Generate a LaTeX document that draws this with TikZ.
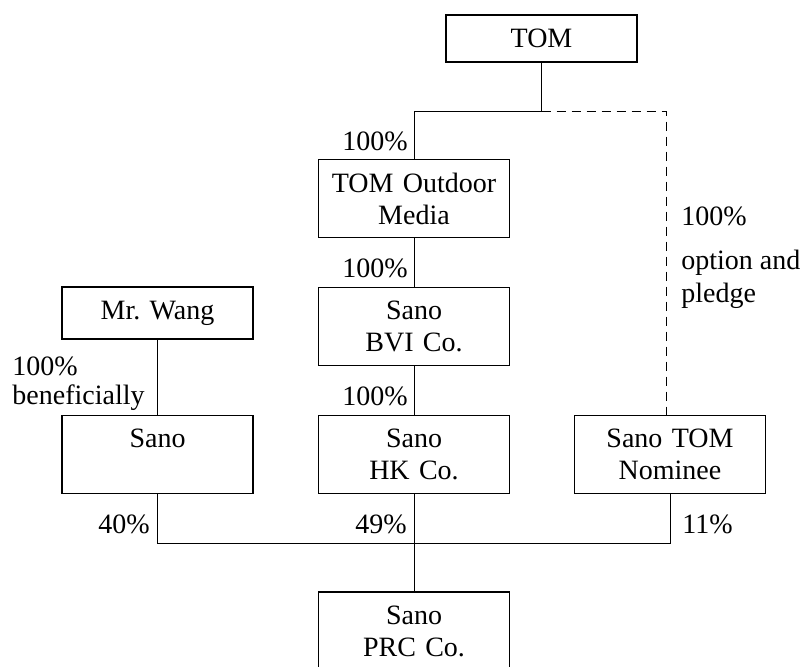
\documentclass[tikz,border=0pt]{standalone}
\usepackage{fontspec}
\setmainfont{Liberation Serif}
\begin{document}
\begin{tikzpicture}
[x=0.5pt, y=-0.5pt,
font=\fontsize{14}{16}\selectfont,
company/.style ={rectangle, draw=black, line width=0.8pt, text width=95.5pt, align=center, inner xsep=0pt, inner ysep=0pt, minimum height=39pt},
parent/.style ={company, minimum height=23.5pt},
person/.style ={company, minimum height=26pt},
share/.style ={inner sep=0pt},
line/.style ={draw, line width=0.5pt},
option/.style ={draw, line width=0.5pt, dash pattern=on 4.5pt off 3pt}]
\useasboundingbox (0,0) rectangle (804,666);
\draw (541.5, 38.5) node[parent] (tom) {TOM};
\draw (414, 198.5) node[company] (outdoor) {TOM Outdoor\\Media};
\draw (414, 326.5) node[company] (bvi) {Sano\\BVI Co.};
\draw (414, 454.5) node[company] (hk) {Sano\\HK Co.};
\draw (157.5, 313) node[person] (wang) {Mr.\ Wang};
\draw (157.5, 454.5) node[company] (sano) {Sano\\\mbox{}};
\draw (670, 454.5) node[company] (nominee) {Sano TOM\\Nominee};
\draw (414, 631) node[company] (prc) {Sano\\PRC Co.};
\draw (408, 150) node[share, anchor=base east] (p1) {100\%};
\draw (408, 277) node[share, anchor=base east] (p2) {100\%};
\draw (408, 405) node[share, anchor=base east] (p3) {100\%};
\draw (12, 375) node[share, anchor=base west] (p4) {100\%};
\draw (12, 404) node[share, anchor=base west] (ben) {beneficially};
\draw (681, 225) node[share, anchor=base west] (p5) {100\%};
\draw (681, 269) node[share, anchor=base west] (opt) {option and};
\draw (681, 302) node[share, anchor=base west] (pledge) {pledge};
\draw (150, 533) node[share, anchor=base east] (p40) {40\%};
\draw (407, 533) node[share, anchor=base east] (p49) {49\%};
\draw (682, 533) node[share, anchor=base west] (p11) {11\%};
\coordinate (split) at (541.5, 111);
\coordinate (pledged) at (666, 415);
\coordinate (merge) at (414, 543);
\draw[line] (tom) -- (split);
\draw[line] (split) -| (outdoor);
\draw[option] (split) -| (pledged);
\draw[line] (outdoor) -- (bvi);
\draw[line] (bvi) -- (hk);
\draw[line] (wang) -- (sano);
\draw[line] (sano) |- (merge);
\draw[line] (merge) -| (nominee);
\draw[line] (hk) -- (prc);
\end{tikzpicture}
\end{document}
